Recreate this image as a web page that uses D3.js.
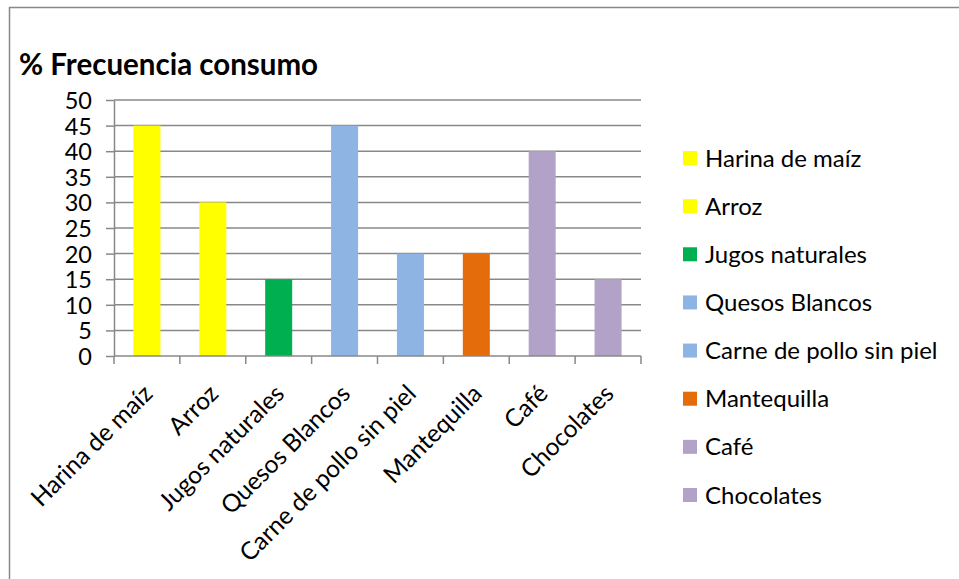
<!DOCTYPE html>
<html>
<head>
<meta charset="utf-8">
<script src="https://cdn.jsdelivr.net/npm/d3@7"></script>
<style>
body { margin:0; background:#fff; }
svg text { font-family: Lato, "Open Sans", sans-serif; fill:#000; }
.grid line { stroke:#888; stroke-width:1.5; }
.axis path, .axis line { stroke:#888; stroke-width:1.5; }
</style>
</head>
<body>
<svg id="myGraph" width="959" height="579"></svg>
<script>
// datos
var categorias = ["Harina de maíz", "Arroz", "Jugos naturales", "Quesos Blancos",
  "Carne de pollo sin piel", "Mantequilla", "Café", "Chocolates"];
var valores = [45, 30, 15, 45, 20, 20, 40, 15];
var colores = ["#FFFF00", "#FFFF00", "#00B050", "#8EB4E3", "#8EB4E3", "#E46C0A", "#B3A2C7", "#B3A2C7"];
var yTicks = [0, 5, 10, 15, 20, 25, 30, 35, 40, 45, 50];
var titulo = "% Frecuencia consumo";

window.addEventListener("load", function(){
var svg = d3.select("#myGraph");
var plotLeft = 114, plotRight = 641, plotTop = 100, plotBottom = 356;

// borde del grafico
svg.append("rect")
  .attr("x", 9.5).attr("y", 7.5)
  .attr("width", 1000).attr("height", 1000)
  .attr("fill", "none").attr("stroke", "#888").attr("stroke-width", 1.5);

svg.append("text")
  .attr("x", 19).attr("y", 75)
  .style("font-size", "29.5px").style("font-weight", "bold")
  .text(titulo);

var xScale = d3.scaleBand().domain(categorias).range([plotLeft, plotRight]).paddingInner(0.59).paddingOuter(0.295);
var xBand = d3.scaleBand().domain(categorias).range([plotLeft, plotRight]); // para los ticks
var yScale = d3.scaleLinear().domain([0, 50]).range([plotBottom, plotTop]);

// lineas de cuadricula
svg.append("g").attr("class", "grid")
  .selectAll("line").data(yTicks.slice(1)).enter().append("line")
  .attr("x1", plotLeft).attr("x2", plotRight)
  .attr("y1", function(d){ return yScale(d); })
  .attr("y2", function(d){ return yScale(d); });

// barras
svg.append("g").selectAll("rect").data(valores).enter().append("rect")
  .attr("x", function(d,i){ return xScale(categorias[i]); })
  .attr("width", xScale.bandwidth())
  .attr("y", function(d){ return yScale(d); })
  .attr("height", function(d){ return plotBottom - yScale(d); })
  .attr("fill", function(d,i){ return colores[i]; });

// eje Y
var yAxis = svg.append("g").attr("class", "axis")
  .attr("transform", "translate(" + plotLeft + ",0)")
  .call(d3.axisLeft(yScale).tickValues(yTicks).tickSizeInner(8).tickSizeOuter(0).tickPadding(14));
yAxis.selectAll("text").style("font-size", "23.5px").attr("dy", "0.36em");

// eje X con ticks en los limites
var xAxis = svg.append("g").attr("class", "axis")
  .attr("transform", "translate(0," + plotBottom + ")");
xAxis.append("line").attr("x1", plotLeft).attr("x2", plotRight).attr("y1", 0).attr("y2", 0);
var limites = categorias.map(function(c){ return xBand(c); }).concat([plotRight]);
xAxis.selectAll("line.tick").data(limites).enter().append("line").attr("class", "tick")
  .attr("x1", function(d){ return d; }).attr("x2", function(d){ return d; })
  .attr("y1", 0).attr("y2", 8);
xAxis.selectAll("text").data(categorias).enter().append("text")
  .attr("text-anchor", "end")
  .style("font-size", "24.5px")
  .attr("transform", function(d){
    var cx = xBand(d) + xBand.bandwidth() / 2 - 5;
    return "translate(" + cx + ",27) rotate(-45)";
  })
  .attr("dy", "0.7em")
  .text(function(d){ return d; });

// leyenda
var legY = d3.scalePoint().domain(categorias).range([158, 495]);
var leg = svg.append("g").selectAll("g").data(categorias).enter().append("g")
  .attr("transform", function(d){ return "translate(683," + legY(d) + ")"; });
leg.append("rect").attr("x", 0).attr("y", -7).attr("width", 14).attr("height", 14)
  .attr("fill", function(d,i){ return colores[i]; });
leg.append("text").attr("x", 22).attr("dy", "0.36em")
  .style("font-size", "24px")
  .text(function(d){ return d; });
});
</script>
</body>
</html>
